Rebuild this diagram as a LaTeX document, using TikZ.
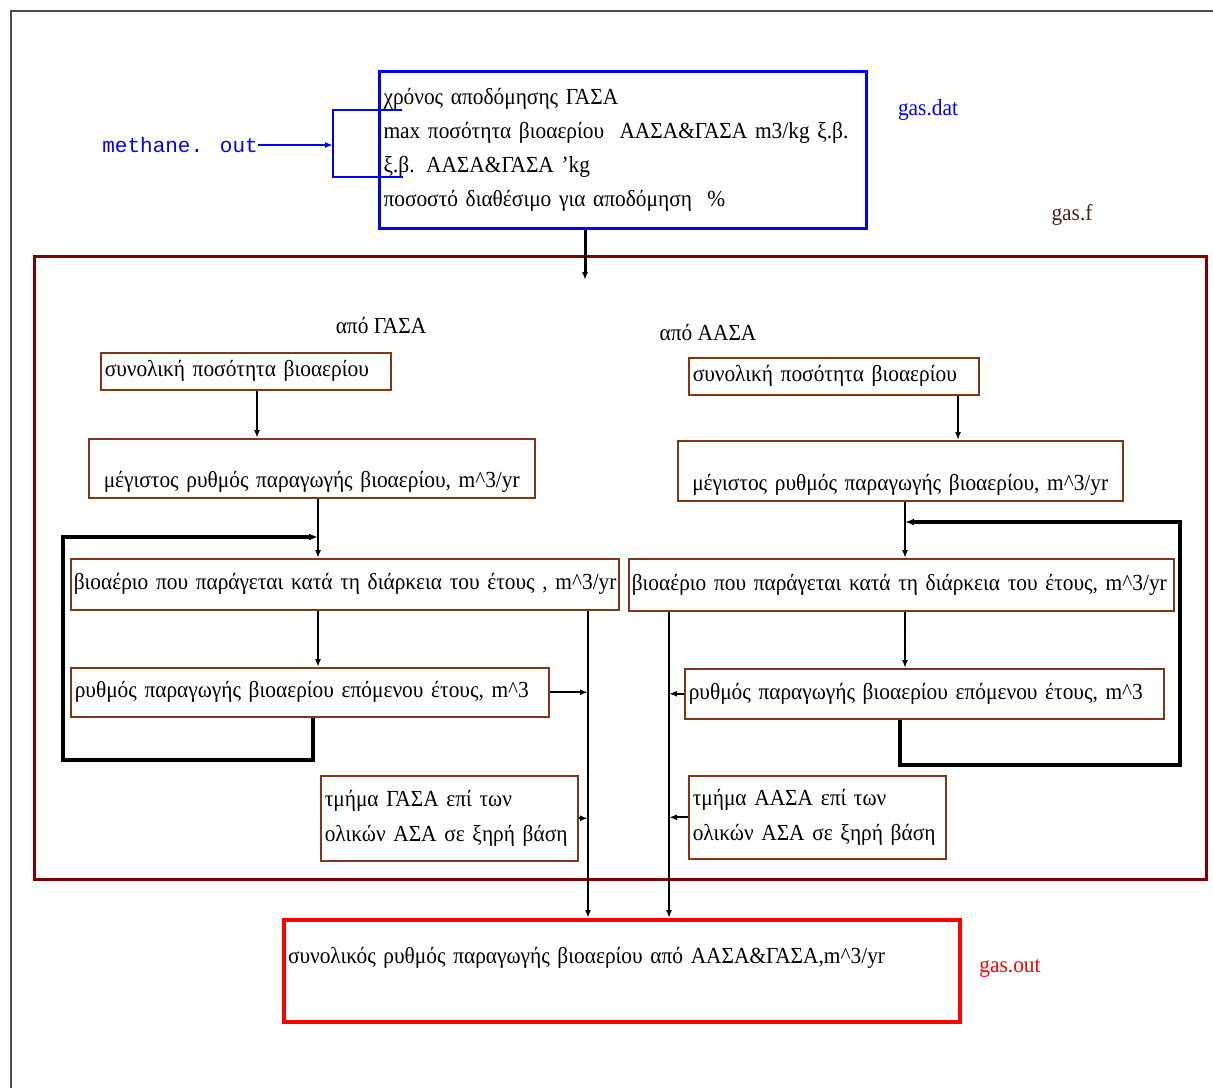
\documentclass[tikz,border=0pt]{standalone}
\usepackage{fontspec}
\setmainfont[FakeStretch=0.93]{Liberation Serif}
\newfontfamily\monof{Liberation Mono}
\usetikzlibrary{arrows.meta,calc}
\definecolor{cont}{RGB}{128,0,0}
\definecolor{boxb}{RGB}{125,55,25}
\definecolor{gasf}{RGB}{70,35,20}
\begin{document}
\begin{tikzpicture}[x=1pt,y=-1pt,
  every node/.style={font=\fontsize{23}{27}\selectfont},
  bx/.style={draw=boxb, line width=1.5pt, anchor=north west, inner sep=4pt, align=left},
  arr/.style={line width=2pt, -{Latex[length=8pt,width=6pt]}},
  fb/.style={line width=3.5pt, -{Latex[length=9pt,width=7pt]}},
  lbl/.style={inner sep=0pt}
]
\useasboundingbox (0,0) rectangle (1213,1088);
\fill[white] (0,0) rectangle (1213,1088);
% outer frame
\draw[gray!60!black, line width=2pt] (11,1088) -- (11,11) -- (1213,11);

% container
\node[draw=cont, line width=3pt, anchor=north west, inner sep=0pt,
      minimum width=1172pt, minimum height=623pt] (cont) at (33,255) {};

% top input box
\node[draw=blue, line width=3pt, anchor=north west, inner sep=4pt, align=left,
      text width=479pt, minimum height=157pt,
      font=\fontsize{23}{34}\selectfont] (top) at (378,70)
  {χρόνος αποδόμησης ΓΑΣΑ\\
   max ποσότητα βιοαερίου\ \ ΑΑΣΑ\&ΓΑΣΑ m3/kg ξ.β.\\
   ξ.β. ΑΑΣΑ\&ΓΑΣΑ 'kg\\
   ποσοστό διαθέσιμο για αποδόμηση\ \ \%};

\node[lbl, text=blue] (gasdat) at (928,110) {gas.dat};
\node[lbl, text=blue, anchor=east, font=\monof\fontsize{21}{25}\selectfont] (meth) at (258,145) {methane. out};
\node[lbl, text=gasf] (gasfl) at (1072,215) {gas.f};

% methane bracket
\coordinate (br) at (333,145);
\draw[blue, line width=2pt] (402,110) -- (333,110) -- (333,177) -- (403,177);
\draw[blue, line width=2pt, -{Latex[length=8pt,width=6pt]}] (meth.east) -- (br);

% column titles
\node[lbl] (tL) at (381,325) {από ΓΑΣΑ};
\node[lbl] (tR) at (708,332) {από ΑΑΣΑ};

% left column
\node[bx, text width=282pt, minimum height=37pt] (L1) at (100,352) {συνολική ποσότητα βιοαερίου};
\node[bx, text width=438pt, text height=45pt, text depth=6pt, align=center] (L2) at (88,438) {μέγιστος ρυθμός παραγωγής βιοαερίου, m\textasciicircum 3/yr};
\node[bx, inner xsep=3pt, text width=542pt, minimum height=51pt] (L3) at (70,558) {\mbox{βιοαέριο που παράγεται κατά τη\ διάρκεια του έτους , m\textasciicircum 3/yr}};
\node[bx, text width=470pt, minimum height=49pt] (L4) at (70,667) {\mbox{ρυθμός παραγωγής βιοαερίου επόμενου έτους, m\textasciicircum 3}};
\node[bx, text width=249pt, minimum height=85pt, font=\fontsize{23}{35}\selectfont] (L5) at (320,775) {τμήμα ΓΑΣΑ επί των\\ολικών ΑΣΑ σε ξηρή βάση};

% right column
\node[bx, text width=282pt, minimum height=37pt] (R1) at (688,357) {συνολική ποσότητα βιοαερίου};
\node[bx, text width=437pt, text height=46pt, text depth=6pt, align=center] (R2) at (677,440) {μέγιστος ρυθμός παραγωγής βιοαερίου, m\textasciicircum 3/yr};
\node[bx, inner xsep=3pt, text width=539pt, minimum height=52pt] (R3) at (628,558) {\mbox{βιοαέριο που παράγεται κατά τη διάρκεια του έτους, m\textasciicircum 3/yr}};
\node[bx, text width=471pt, minimum height=50pt] (R4) at (684,668) {\mbox{ρυθμός παραγωγής βιοαερίου επόμενου έτους, m\textasciicircum 3}};
\node[bx, text width=249pt, minimum height=83pt, font=\fontsize{23}{35}\selectfont] (R5) at (688,775) {τμήμα ΑΑΣΑ επί των\\ολικών ΑΣΑ σε ξηρή βάση};

% output box
\node[draw=red, line width=4pt, anchor=north west, inner sep=4pt, align=left,
      text width=668pt, text height=39pt, text depth=55pt] (bot) at (282,918)
  {συνολικός ρυθμός παραγωγής βιοαερίου από ΑΑΣΑ\&ΓΑΣΑ,m\textasciicircum 3/yr};
\node[lbl, text=red] (gasout) at (1010,968) {gas.out};

% axis coordinates
\coordinate (xT) at (585,280);
\coordinate (xL1) at (257,0);
\coordinate (xR1) at (958,0);
\coordinate (xL) at (318,0);
\coordinate (xR) at (905,0);
\coordinate (xVL) at (588,0);
\coordinate (xVR) at (669,0);
\coordinate (lb) at (313,0);
\coordinate (rb) at (900,0);
\coordinate (Lc1) at (63,760);
\coordinate (Lc2) at (63,537);
\coordinate (Rc1) at (1180,765);
\coordinate (Rc2) at (1180,522);

% connectors
\draw[line width=3pt, -{Latex[length=8pt,width=6pt]}] (top.south -| xT) -- (xT);
\draw[arr] (L1.south -| xL1) -- (L2.north -| xL1);
\draw[arr] (R1.south -| xR1) -- (R2.north -| xR1);
\draw[arr] (L2.south -| xL) -- (L3.north -| xL);
\draw[arr] (L3.south -| xL) -- (L4.north -| xL);
\draw[arr] (R2.south -| xR) -- (R3.north -| xR);
\draw[arr] (R3.south -| xR) -- (R4.north -| xR);

% feedback loops
\draw[fb] (L4.south -| lb) |- (Lc1) -- (Lc2) -- (Lc2 -| xL);
\draw[fb] (R4.south -| rb) |- (Rc1) -- (Rc2) -- (Rc2 -| xR);

% collectors
\draw[arr] (L3.south -| xVL) -- (bot.north -| xVL);
\draw[arr] (R3.south -| xVR) -- (bot.north -| xVR);
\draw[arr] (L4.east) -- (L4.east -| xVL);
\draw[arr] (L5.east) -- (L5.east -| xVL);
\draw[arr] (R4.west) -- (R4.west -| xVR);
\draw[arr] (R5.west) -- (R5.west -| xVR);
\end{tikzpicture}
\end{document}
